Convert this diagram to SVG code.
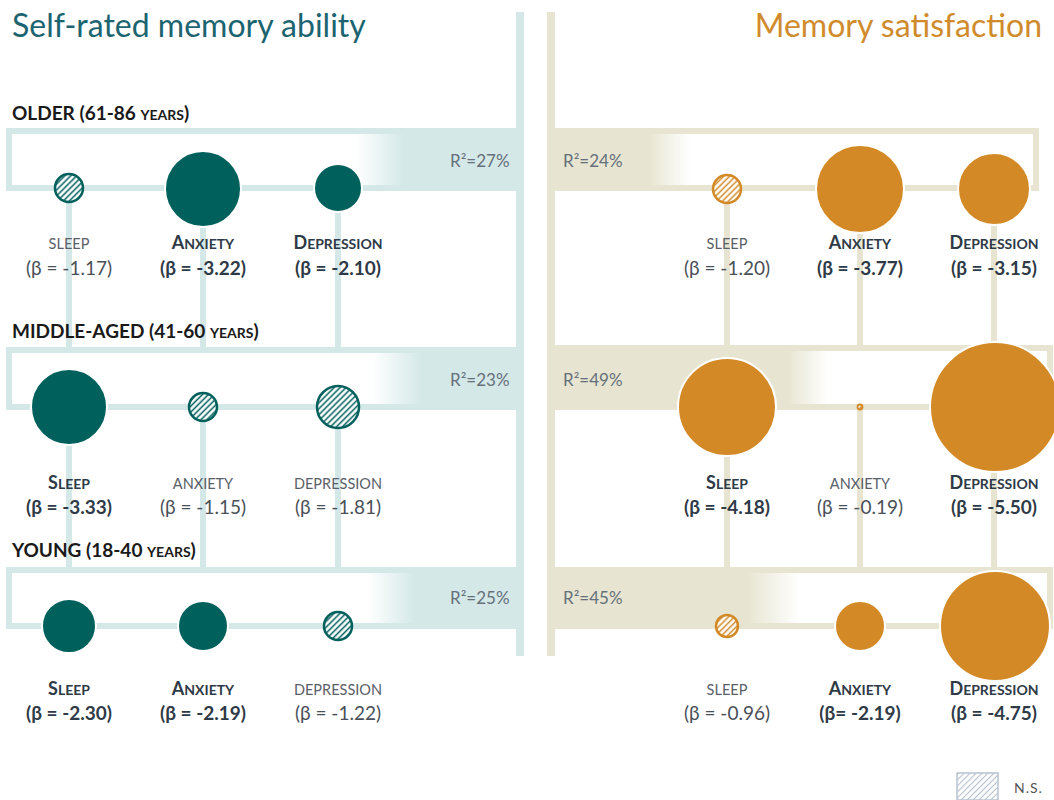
<svg xmlns="http://www.w3.org/2000/svg" width="1054" height="800" viewBox="0 0 1054 800">
<style>
text{font-family:Lato,"Open Sans","Liberation Sans",sans-serif}
.title{font-size:32px}
.hdr{font-size:19px;font-weight:bold;fill:#1a1a1a}
.hdr .sc{font-size:14px}
.lab{font-size:14.5px;fill:#5a6068;text-anchor:middle}
.labB{font-size:14px;font-weight:bold;fill:#2f3a47;text-anchor:middle}
.labB .big{font-size:18px}
.beta{font-size:19px;fill:#4a5058;text-anchor:middle}
.betaB{font-size:19px;font-weight:bold;fill:#2f3a47;text-anchor:middle}
.r2{font-size:17px;fill:#66707a}
.lt{stroke:#d4e8e8;stroke-width:6;fill:none}
.lb{stroke:#e7e5d1;stroke-width:6;fill:none}
.ct{fill:#00605c;stroke:#fff;stroke-width:2}
.co{fill:#d38a26;stroke:#fff;stroke-width:2}
.ht{fill:url(#hT);stroke:#00605c;stroke-width:2.5}
.ho{fill:url(#hO);stroke:#d38a26;stroke-width:2.5}
</style>
<defs>
<pattern id="hT" width="4.2" height="4.2" patternUnits="userSpaceOnUse" patternTransform="rotate(45)"><rect width="4.2" height="4.2" fill="#fff"/><line x1="2.1" y1="0" x2="2.1" y2="4.2" stroke="#00605c" stroke-width="1.5"/></pattern>
<pattern id="hO" width="4.2" height="4.2" patternUnits="userSpaceOnUse" patternTransform="rotate(45)"><rect width="4.2" height="4.2" fill="#fff"/><line x1="2.1" y1="0" x2="2.1" y2="4.2" stroke="#d38a26" stroke-width="1.5"/></pattern>
<pattern id="hG" width="4.2" height="4.2" patternUnits="userSpaceOnUse" patternTransform="rotate(45)"><rect width="4.2" height="4.2" fill="#fff"/><line x1="2.1" y1="0" x2="2.1" y2="4.2" stroke="#b8c4d0" stroke-width="1.2"/></pattern>
<linearGradient id="gL1" gradientUnits="userSpaceOnUse" x1="355" y1="0" x2="405" y2="0"><stop offset="0" stop-color="#d4e8e8" stop-opacity="0"/><stop offset="1" stop-color="#d4e8e8"/></linearGradient>
<linearGradient id="gL2" gradientUnits="userSpaceOnUse" x1="372" y1="0" x2="422" y2="0"><stop offset="0" stop-color="#d4e8e8" stop-opacity="0"/><stop offset="1" stop-color="#d4e8e8"/></linearGradient>
<linearGradient id="gL3" gradientUnits="userSpaceOnUse" x1="368" y1="0" x2="415" y2="0"><stop offset="0" stop-color="#d4e8e8" stop-opacity="0"/><stop offset="1" stop-color="#d4e8e8"/></linearGradient>
<linearGradient id="gR1" gradientUnits="userSpaceOnUse" x1="648" y1="0" x2="690" y2="0"><stop offset="0" stop-color="#e7e5d1"/><stop offset="1" stop-color="#e7e5d1" stop-opacity="0"/></linearGradient>
<linearGradient id="gR2" gradientUnits="userSpaceOnUse" x1="787" y1="0" x2="828" y2="0"><stop offset="0" stop-color="#e7e5d1"/><stop offset="1" stop-color="#e7e5d1" stop-opacity="0"/></linearGradient>
<linearGradient id="gR3" gradientUnits="userSpaceOnUse" x1="746" y1="0" x2="800" y2="0"><stop offset="0" stop-color="#e7e5d1"/><stop offset="1" stop-color="#e7e5d1" stop-opacity="0"/></linearGradient>
</defs>
<rect width="1054" height="800" fill="#fff"/>

<g id="connectors">
<rect x="355" y="131" width="165" height="57" fill="url(#gL1)"/>
<rect x="372" y="350" width="148" height="57" fill="url(#gL2)"/>
<rect x="368" y="570" width="152" height="56" fill="url(#gL3)"/>
<rect x="551" y="131" width="139" height="57" fill="url(#gR1)"/>
<rect x="551" y="348" width="277" height="59" fill="url(#gR2)"/>
<rect x="551" y="570" width="249" height="56" fill="url(#gR3)"/>
<line class="lt" x1="520" y1="12" x2="520" y2="656" style="stroke-width:8"/>
<path class="lt" d="M520,131 H9 V188 H520 M520,350 H9 V407 H520 M520,570 H9 V626 H520"/>
<path class="lt" d="M69,188 V350 M203,188 V350 M338,188 V350 M69,407 V570 M203,407 V570 M338,407 V570"/>
<line class="lb" x1="551" y1="12" x2="551" y2="656" style="stroke-width:8"/>
<path class="lb" d="M551,131 H1036 V188 H551 M551,348 H1050 V407 H551 M551,570 H1050 V626 H551"/>
<path class="lb" d="M727,188 V348 M860,188 V348 M994,188 V348 M727,407 V570 M860,407 V570 M994,407 V570"/>
</g>

<g id="titles">
<text class="title" x="12" y="37" fill="#1b6470">Self-rated memory ability</text>
<text class="title" x="1042" y="37" fill="#d08b2c" text-anchor="end">Memory satisfaction</text>
<text class="hdr" x="12" y="120">OLDER (61-86 <tspan class="sc">YEARS</tspan>)</text>
<text class="hdr" x="12" y="338">MIDDLE-AGED (41-60 <tspan class="sc">YEARS</tspan>)</text>
<text class="hdr" x="12" y="557">YOUNG (18-40 <tspan class="sc">YEARS</tspan>)</text>
</g>

<g id="r2labels">
<text class="r2" x="450" y="167">R²=27%</text>
<text class="r2" x="450" y="386">R²=23%</text>
<text class="r2" x="450" y="604">R²=25%</text>
<text class="r2" x="563" y="167">R²=24%</text>
<text class="r2" x="563" y="386">R²=49%</text>
<text class="r2" x="563" y="604">R²=45%</text>
</g>

<g id="L-older-sleep"><circle class="ht" cx="69" cy="188" r="14"/><text class="lab" x="69" y="249">SLEEP</text><text class="beta" x="69" y="275">(β = -1.17)</text></g>
<g id="L-older-anxiety"><circle class="ct" cx="203" cy="189" r="38"/><text class="labB" x="203" y="249"><tspan class="big">A</tspan>NXIETY</text><text class="betaB" x="203" y="275">(β = -3.22)</text></g>
<g id="L-older-depression"><circle class="ct" cx="338" cy="188" r="24"/><text class="labB" x="338" y="249"><tspan class="big">D</tspan>EPRESSION</text><text class="betaB" x="338" y="275">(β = -2.10)</text></g>

<g id="L-middle-sleep"><circle class="ct" cx="69" cy="407" r="38"/><text class="labB" x="69" y="489"><tspan class="big">S</tspan>LEEP</text><text class="betaB" x="69" y="514">(β = -3.33)</text></g>
<g id="L-middle-anxiety"><circle class="ht" cx="203" cy="407" r="14"/><text class="lab" x="203" y="489">ANXIETY</text><text class="beta" x="203" y="514">(β = -1.15)</text></g>
<g id="L-middle-depression"><circle class="ht" cx="338" cy="407" r="21"/><text class="lab" x="338" y="489">DEPRESSION</text><text class="beta" x="338" y="514">(β = -1.81)</text></g>

<g id="L-young-sleep"><circle class="ct" cx="69" cy="626" r="27"/><text class="labB" x="69" y="695"><tspan class="big">S</tspan>LEEP</text><text class="betaB" x="69" y="720">(β = -2.30)</text></g>
<g id="L-young-anxiety"><circle class="ct" cx="203" cy="626" r="25"/><text class="labB" x="203" y="695"><tspan class="big">A</tspan>NXIETY</text><text class="betaB" x="203" y="720">(β = -2.19)</text></g>
<g id="L-young-depression"><circle class="ht" cx="338" cy="626" r="14"/><text class="lab" x="338" y="695">DEPRESSION</text><text class="beta" x="338" y="720">(β = -1.22)</text></g>

<g id="R-older-sleep"><circle class="ho" cx="727" cy="189" r="14"/><text class="lab" x="727" y="249">SLEEP</text><text class="beta" x="727" y="275">(β = -1.20)</text></g>
<g id="R-older-anxiety"><circle class="co" cx="860" cy="189" r="44"/><text class="labB" x="860" y="249"><tspan class="big">A</tspan>NXIETY</text><text class="betaB" x="860" y="275">(β = -3.77)</text></g>
<g id="R-older-depression"><circle class="co" cx="994" cy="189" r="36"/><text class="labB" x="994" y="249"><tspan class="big">D</tspan>EPRESSION</text><text class="betaB" x="994" y="275">(β = -3.15)</text></g>

<g id="R-middle-sleep"><circle class="co" cx="727" cy="407" r="49"/><text class="labB" x="727" y="489"><tspan class="big">S</tspan>LEEP</text><text class="betaB" x="727" y="514">(β = -4.18)</text></g>
<g id="R-middle-anxiety"><circle class="ho" cx="860" cy="407" r="2.5" style="stroke-width:1.8"/><text class="lab" x="860" y="489">ANXIETY</text><text class="beta" x="860" y="514">(β = -0.19)</text></g>
<g id="R-middle-depression"><circle class="co" cx="995" cy="407" r="65"/><text class="labB" x="994" y="489"><tspan class="big">D</tspan>EPRESSION</text><text class="betaB" x="994" y="514">(β = -5.50)</text></g>

<g id="R-young-sleep"><circle class="ho" cx="727" cy="626" r="11"/><text class="lab" x="727" y="695">SLEEP</text><text class="beta" x="727" y="720">(β = -0.96)</text></g>
<g id="R-young-anxiety"><circle class="co" cx="860" cy="626" r="25"/><text class="labB" x="860" y="695"><tspan class="big">A</tspan>NXIETY</text><text class="betaB" x="860" y="720">(β= -2.19)</text></g>
<g id="R-young-depression"><circle class="co" cx="995" cy="626" r="55"/><text class="labB" x="994" y="695"><tspan class="big">D</tspan>EPRESSION</text><text class="betaB" x="994" y="720">(β = -4.75)</text></g>

<g id="legend"><rect x="957" y="773" width="41" height="27" fill="url(#hG)" stroke="#b8c4d0" stroke-width="1.5"/><text x="1014" y="793" font-size="14" fill="#555" letter-spacing="1">N.S.</text></g>
</svg>
